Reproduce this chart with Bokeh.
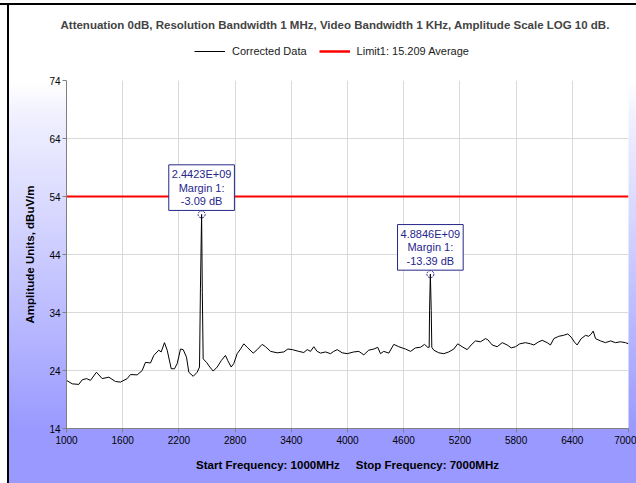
from bokeh.plotting import figure
from bokeh.layouts import column
from bokeh.models import Legend, LegendItem, Label, FixedTicker
from bokeh.embed import file_html
from bokeh.resources import INLINE

# ---- data ----
freq_mhz = [1000, 1061, 1131, 1168, 1214, 1256, 1320, 1381, 1452, 1523, 1576, 1648, 1683, 1755,
            1808, 1843, 1897, 1932, 1985, 2011, 2046, 2075, 2118, 2153, 2182, 2217, 2246, 2281,
            2306, 2353, 2395, 2420, 2430, 2442.3, 2450, 2459, 2495, 2530, 2566, 2609, 2652, 2697,
            2722, 2758, 2786, 2822, 2858, 2893, 2929, 2993, 3036, 3089, 3125, 3178, 3249, 3320,
            3363, 3410, 3480, 3533, 3570, 3605, 3640, 3676, 3712, 3765, 3818, 3854, 3890, 3943,
            3997, 4067, 4121, 4174, 4227, 4281, 4323, 4352, 4387, 4441, 4494, 4548, 4619, 4673,
            4726, 4779, 4822, 4857, 4872, 4876, 4884.6, 4894, 4900, 4921, 4975, 5028, 5081, 5135,
            5177, 5224, 5278, 5320, 5366, 5420, 5473, 5498, 5545, 5598, 5652, 5705, 5748, 5793,
            5839, 5900, 5954, 5989, 6042, 6079, 6132, 6167, 6203, 6256, 6303, 6352, 6388, 6423,
            6452, 6495, 6541, 6576, 6602, 6623, 6648, 6701, 6754, 6808, 6861, 6915, 6968, 7000]
amp_dbuv = [22.3, 21.7, 21.6, 22.4, 22.6, 22.3, 23.7, 22.6, 22.85, 22.1, 22.0, 22.6, 23.3, 23.25,
            24.0, 25.4, 25.3, 26.6, 27.5, 27.2, 28.8, 27.5, 24.3, 24.3, 25.2, 27.7, 27.6, 26.3,
            23.7, 23.0, 23.7, 24.6, 38.2, 50.91, 37.5, 26.0, 25.4, 24.6, 23.9, 24.6, 25.7, 26.6,
            25.7, 24.6, 25.2, 26.9, 27.7, 28.6, 28.0, 27.0, 27.6, 28.5, 28.1, 27.3, 27.05, 27.2,
            27.7, 27.6, 27.3, 27.1, 27.6, 27.3, 28.1, 27.3, 27.0, 27.2, 26.9, 27.3, 27.6, 27.05,
            26.9, 27.2, 27.3, 26.7, 27.5, 27.7, 28.0, 26.9, 27.3, 27.0, 28.5, 28.1, 27.7, 27.3,
            27.9, 28.0, 28.5, 28.0, 28.0, 34.3, 40.61, 34.3, 28.0, 27.5, 27.05, 26.9, 27.2, 27.7,
            28.6, 28.1, 27.6, 28.4, 29.1, 28.95, 29.5, 29.3, 28.4, 28.1, 28.8, 28.4, 27.9, 28.1,
            28.6, 28.8, 28.6, 28.4, 28.95, 29.2, 28.8, 28.4, 29.5, 29.9, 30.05, 30.3, 29.75, 28.9,
            28.4, 29.5, 30.05, 29.9, 30.3, 30.8, 29.5, 29.1, 28.8, 29.1, 28.8, 28.95, 28.8, 28.6]

limit_level = 54.0
limit_name = "Limit1: 15.209 Average"
data_name = "Corrected Data"
marker_freq = [2442.3, 4884.6]
marker_margin = [-3.09, -13.39]
x_ticks = [1000, 1600, 2200, 2800, 3400, 4000, 4600, 5200, 5800, 6400, 7000]
y_ticks = [14, 24, 34, 44, 54, 64, 74]

title_text = "Attenuation 0dB, Resolution Bandwidth 1 MHz, Video Bandwidth 1 KHz, Amplitude Scale LOG 10 dB."
x_label = "Start Frequency: 1000MHz\u00a0\u00a0\u00a0\u00a0 Stop Frequency: 7000MHz"
y_label = "Amplitude Units, dBuV/m"

NAVY = "#26268c"
FONT = "Liberation Sans"
W = 636

# ---- header: title + legend (frame aligned with the chart below) ----
header = figure(width=W, height=72, x_range=(0, 1), y_range=(0, 1), x_axis_type=None, y_axis_type=None,
                output_backend="svg", toolbar_location=None,
                min_border_left=0, min_border_right=0, min_border_top=35, min_border_bottom=0)
header.border_fill_color = None
header.background_fill_color = None
header.outline_line_color = None
header.grid.visible = False
header.title.text = title_text
header.title.align = "left"
header.title.offset = -6
header.title.text_font = FONT
header.title.text_font_size = "11.5px"
header.title.text_font_style = "bold"

# legend samples (their data lies outside this header's ranges, so only the legend glyphs show)
h_data = header.line(freq_mhz, amp_dbuv, line_color="black", line_width=1)
h_lim = header.line([freq_mhz[0], freq_mhz[-1]], [limit_level, limit_level], line_color="#ff0000", line_width=2.5)
legend = Legend(items=[LegendItem(label=data_name, renderers=[h_data]),
                       LegendItem(label=limit_name, renderers=[h_lim])],
                orientation="horizontal", location=(128, 11),
                border_line_color=None, background_fill_alpha=0,
                label_text_font=FONT, label_text_font_size="11px", label_text_color="#1a1a1a",
                glyph_width=31, label_standoff=7, spacing=12, padding=2, margin=0)
header.add_layout(legend, "center")

# ---- main chart ----
p = figure(width=W, height=411, x_range=(x_ticks[0], x_ticks[-1]), y_range=(y_ticks[0], y_ticks[-1]),
           output_backend="svg", toolbar_location=None,
           min_border_left=66, min_border_right=8, min_border_top=8, min_border_bottom=55)
p.border_fill_color = None
p.background_fill_color = "white"
p.outline_line_color = None

r_data = p.line(freq_mhz, amp_dbuv, line_color="black", line_width=1)
r_lim = p.line([freq_mhz[0], freq_mhz[-1]], [limit_level, limit_level], line_color="#ff0000", line_width=2)

marker_level = [limit_level + m for m in marker_margin]
p.scatter(marker_freq, marker_level, size=7, marker="circle", fill_color=None,
          line_color=NAVY, line_width=1, line_dash="2 1")

for f, lv, m in zip(marker_freq, marker_level, marker_margin):
    txt = f"{f * 1e6:.4E}\nMargin 1:\n{m:.2f} dB"
    p.add_layout(Label(x=f, y=lv, y_offset=4, text=txt, text_align="center", text_baseline="bottom",
                       text_font=FONT, text_font_size="11px", text_color=NAVY, text_line_height=1.15,
                       border_line_color=NAVY, border_line_width=1,
                       background_fill_color="white", padding=3))

for ax in (p.xaxis, p.yaxis):
    ax.axis_line_color = "#808080"
    ax.major_tick_line_color = "#808080"
    ax.major_tick_out = 4
    ax.major_tick_in = 0
    ax.minor_tick_line_color = None
    ax.major_label_text_font = FONT
    ax.major_label_text_font_size = "10px"
    ax.major_label_text_color = "black"
    ax.axis_label_text_font = FONT
    ax.axis_label_text_font_size = "11.5px"
    ax.axis_label_text_font_style = "bold"
    ax.axis_label_text_color = "black"

p.xaxis.ticker = FixedTicker(ticks=x_ticks)
p.yaxis.ticker = FixedTicker(ticks=y_ticks)
p.xaxis.axis_label = x_label
p.yaxis.axis_label = y_label
p.xaxis.major_label_standoff = 3
p.yaxis.major_label_standoff = 2
p.xaxis.axis_label_standoff = 12
p.yaxis.axis_label_standoff = 10

p.xgrid.ticker = FixedTicker(ticks=x_ticks)
p.ygrid.ticker = FixedTicker(ticks=y_ticks)
p.grid.grid_line_color = "#d9d9d9"

layout = column(header, p, spacing=0, width=W, height=483)
layout.styles = {"overflow": "hidden",
                 "background-repeat": "no-repeat",
                 "background-image": ("linear-gradient(to bottom, #ffffff 3px, #000000 3px, #000000 5px, transparent 5px), "
                                      "linear-gradient(to right, #ffffff 7px, #000000 7px, #000000 9px, transparent 9px), "
                                      "linear-gradient(to bottom, #ffffff 17%, #f0f0ff 24%, #d6d6ff 45%, #b4b4ff 70%, #9999ff 89%)")}

open("out.html", "w").write(file_html(layout, INLINE))
